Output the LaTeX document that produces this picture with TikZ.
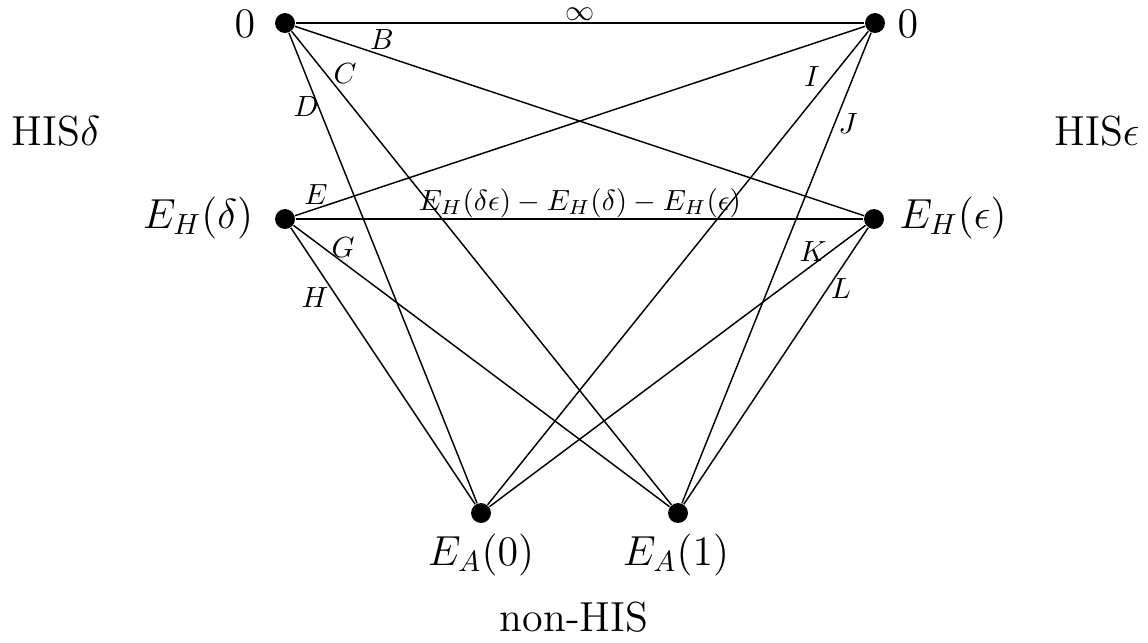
\documentclass[tikz,border=0pt]{standalone}
\usepackage{amsmath,amssymb}
\usetikzlibrary{positioning}

\begin{document}
\begin{tikzpicture}[x=0.01205cm,y=-0.01205cm,
    dot/.style={circle,fill=black,inner sep=0pt,minimum size=0.24cm},
    big/.style={font=\Large,inner sep=1pt},
    lbl/.style={font=\normalsize,inner sep=1pt},
    edge/.style={line width=0.5pt},
]
\useasboundingbox (0,0) rectangle (1148,642);

% vertices
\node[dot] (t0) at (285,23) {};
\node[dot] (t1) at (875,23) {};
\node[dot] (hd) at (285,219) {};
\node[dot] (he) at (874,219) {};
\node[dot] (a0) at (481,513) {};
\node[dot] (a1) at (678,513) {};

% vertex labels
\node[big] (t0l) at (245,24) {$0$};
\node[big] (t1l) at (908,24) {$0$};
\node[big] (hdl) at (198,218) {$E_H(\delta)$};
\node[big] (hel) at (953,218) {$E_H(\epsilon)$};
\node[big] (a0l) at (481,555) {$E_A(0)$};
\node[big] (a1l) at (676,555) {$E_A(1)$};

% group labels
\node[big] (gd) at (56,131) {HIS$\delta$};
\node[big] (ge) at (1097,131) {HIS$\epsilon$};
\node[big] (gn) at (574,617) {non-HIS};

% edges
\draw[edge] (t0) -- (t1);
\draw[edge] (t0) -- (he);
\draw[edge] (t0) -- (a1);
\draw[edge] (t0) -- (a0);
\draw[edge] (hd) -- (t1);
\draw[edge] (hd) -- (he);
\draw[edge] (hd) -- (a1);
\draw[edge] (hd) -- (a0);
\draw[edge] (t1) -- (a0);
\draw[edge] (t1) -- (a1);
\draw[edge] (he) -- (a0);
\draw[edge] (he) -- (a1);

% edge labels
\node[lbl,inner sep=0pt] (linf) at (580,14) {$\infty$};
\node[lbl] (lb) at (382,40) {$B$};
\node[lbl] (lc) at (345,74) {$C$};
\node[lbl] (ld) at (306,107) {$D$};
\node[lbl] (le) at (316,195) {$E$};
\node[lbl] (lf) at (580,203) {$E_H(\delta\epsilon)-E_H(\delta)-E_H(\epsilon)$};
\node[lbl] (lg) at (343,248) {$G$};
\node[lbl] (lh) at (315,298) {$H$};
\node[lbl] (li) at (812,77) {$I$};
\node[lbl] (lj) at (848,124) {$J$};
\node[lbl] (lk) at (813,252) {$K$};
\node[lbl] (ll) at (841,289) {$L$};
\end{tikzpicture}
\end{document}
